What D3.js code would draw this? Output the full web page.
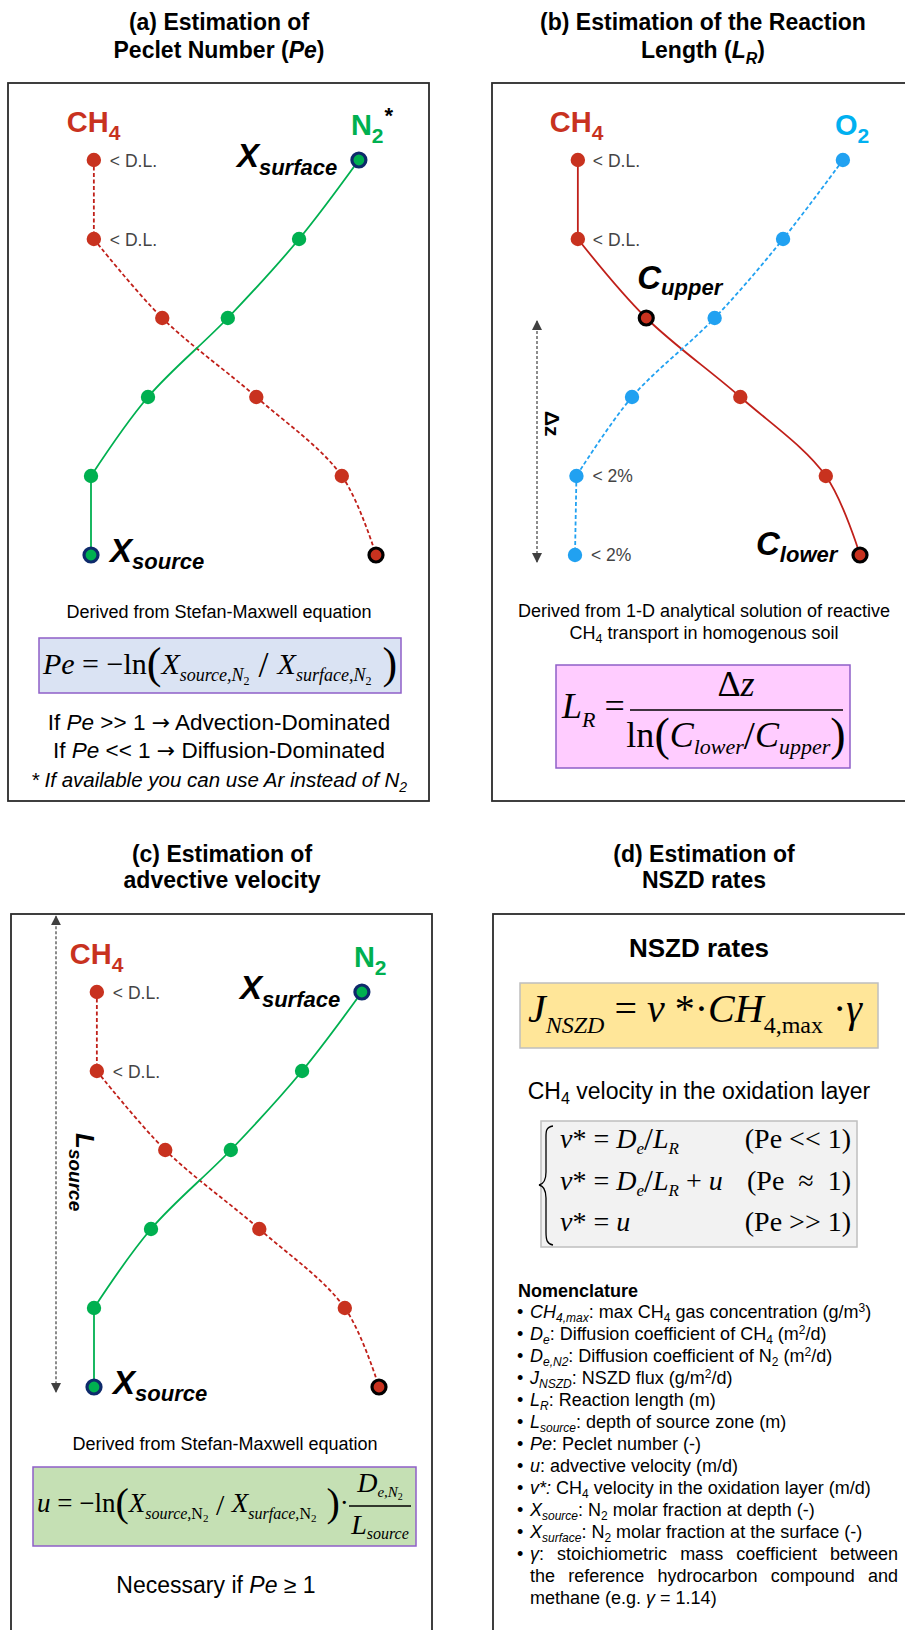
<!DOCTYPE html>
<html>
<head>
<meta charset="utf-8">
<script src="https://cdn.jsdelivr.net/npm/d3@7"></script>
<style>
  body { margin: 0; background: #fff; }
  svg { display: block; font-family: "Liberation Sans", Arial, sans-serif; }
</style>
</head>
<body>
<div id="chart"></div>
<script>
// depth levels (0 = surface, 5 = source) and gas profiles (% of max)
const depthLevels = [0, 1, 2, 3, 4, 5];
const ch4Values = [1, 1, 25, 58, 88, 100];
const n2Values = [94, 73, 48, 20, 0, 0];
const o2Values = [94, 73, 49, 20, 0.5, 0];
const ch4Notes = ["< D.L.", "< D.L.", "", "", "", ""];
const o2Notes = ["", "", "", "", "< 2%", "< 2%"];

const panelTitles = [
  ["(a) Estimation of", "Peclet Number (", "Pe", ")"],
  ["(b) Estimation of the Reaction", "Length (", "L", "R", ")"],
  ["(c) Estimation of", "advective velocity"],
  ["(d) Estimation of", "NSZD rates"]
];

const nomenclature = [
  [["CH", "i"], ["4,max", "is"], [": max CH"], ["4", "s"], [" gas concentration (g/m"], ["3", "p"], [")"]],
  [["D", "i"], ["e", "is"], [": Diffusion coefficient of CH"], ["4", "s"], [" (m"], ["2", "p"], ["/d)"]],
  [["D", "i"], ["e,N2", "is"], [": Diffusion coefficient of N"], ["2", "s"], [" (m"], ["2", "p"], ["/d)"]],
  [["J", "i"], ["NSZD", "is"], [": NSZD flux (g/m"], ["2", "p"], ["/d)"]],
  [["L", "i"], ["R", "is"], [": Reaction length (m)"]],
  [["L", "i"], ["source", "is"], [": depth of source zone (m)"]],
  [["Pe", "i"], [": Peclet number (-)"]],
  [["u", "i"], [": advective velocity (m/d)"]],
  [["v*:", "i"], [" CH"], ["4", "s"], [" velocity in the oxidation layer (m/d)"]],
  [["X", "i"], ["source", "is"], [": N"], ["2", "s"], [" molar fraction at depth (-)"]],
  [["X", "i"], ["surface", "is"], [": N"], ["2", "s"], [" molar fraction at the surface (-)"]],
  [["γ", "i"], [": stoichiometric mass coefficient between"]],
  [["the reference hydrocarbon compound and"]],
  [["methane (e.g. "], ["γ", "i"], [" = 1.14)"]]
];

const RED = "#c8321f", RED_LINE = "#c0201a", GREEN = "#00b050", BLUE = "#21a1f1",
      SKY = "#00b0f0", NAVY = "#0e2a6b", SERIF = "Liberation Serif, Times New Roman, serif";

const W = 905, H = 1630;
const svg = d3.select("#chart").append("svg").attr("width", W).attr("height", H);
svg.append("rect").attr("width", W).attr("height", H).attr("fill", "#fff");

const defs = svg.append("defs");
defs.append("marker").attr("id", "arr").attr("viewBox", "0 0 10 10")
  .attr("refX", 9).attr("refY", 5).attr("markerWidth", 10).attr("markerHeight", 10)
  .attr("markerUnits", "userSpaceOnUse").attr("orient", "auto-start-reverse")
  .append("path").attr("d", "M0,0L10,5L0,10Z").attr("fill", "#404040");

// rich text: segs = {t, s, i, b, sh, dx, f, c}
function rich(parent, x, y, segs, anchor) {
  const t = parent.append("text").attr("x", x).attr("y", y)
    .attr("text-anchor", anchor || "start");
  let cur = 0;
  segs.forEach(s => {
    const sh = s.sh || 0;
    const sp = t.append("tspan").text(s.t).attr("font-size", s.s).attr("dy", sh - cur);
    if (s.dx) sp.attr("dx", s.dx);
    if (s.i) sp.attr("font-style", "italic");
    if (s.b) sp.attr("font-weight", "bold");
    if (s.f) sp.attr("font-family", s.f);
    if (s.c) sp.attr("fill", s.c);
    cur = sh;
  });
  return t;
}

// ---------- titles ----------
const TS = 23;
const tg = svg.append("g").attr("fill", "#000").attr("font-weight", "bold");
rich(tg, 219, 30, [{t: panelTitles[0][0], s: TS}], "middle");
rich(tg, 219, 58, [{t: panelTitles[0][1], s: TS}, {t: panelTitles[0][2], s: TS, i: 1}, {t: panelTitles[0][3], s: TS}], "middle");
rich(tg, 703, 30, [{t: panelTitles[1][0], s: TS}], "middle");
rich(tg, 703, 58, [{t: panelTitles[1][1], s: TS}, {t: panelTitles[1][2], s: TS, i: 1}, {t: panelTitles[1][3], s: 16, i: 1, sh: 6}, {t: panelTitles[1][4], s: TS}], "middle");
rich(tg, 222, 862, [{t: panelTitles[2][0], s: TS}], "middle");
rich(tg, 222, 888, [{t: panelTitles[2][1], s: TS}], "middle");
rich(tg, 704, 862, [{t: panelTitles[3][0], s: TS}], "middle");
rich(tg, 704, 888, [{t: panelTitles[3][1], s: TS}], "middle");

// ---------- frames ----------
const frames = [[8, 83, 421, 718], [492, 83, 430, 718], [11, 914, 421, 730], [493, 914, 430, 730]];
svg.append("g").selectAll("rect").data(frames).join("rect")
  .attr("x", d => d[0]).attr("y", d => d[1]).attr("width", d => d[2]).attr("height", d => d[3])
  .attr("fill", "none").attr("stroke", "#2b2b2b").attr("stroke-width", 1.8);

// ---------- profile helpers ----------
// equal neighbouring values are joined with straight segments, the rest with a smooth curve
function profile(g, x, y, values, lineColor, dashed) {
  const pts = depthLevels.map((d, i) => ({d: d, v: values[i]}));
  const runs = [];
  let cur = [pts[0]], flat = null;
  for (let i = 0; i < pts.length - 1; i++) {
    const f = Math.abs(pts[i + 1].v - pts[i].v) < 1;
    if (flat === null) flat = f;
    if (f !== flat) { runs.push({pts: cur, flat: flat}); cur = [pts[i]]; flat = f; }
    cur.push(pts[i + 1]);
  }
  runs.push({pts: cur, flat: flat});
  runs.forEach(r => {
    g.append("path").datum(r.pts)
      .attr("fill", "none").attr("stroke", lineColor).attr("stroke-width", 1.8)
      .attr("stroke-dasharray", dashed ? "4,2.5" : null)
      .attr("d", d3.line().x(p => x(p.v)).y(p => y(p.d))
        .curve(r.flat ? d3.curveLinear : d3.curveCatmullRom.alpha(0.5)));
  });
  return pts;
}
function dots(g, x, y, pts, color, ringIdx, ringColor) {
  g.selectAll(null).data(pts).join("circle")
    .attr("cx", p => x(p.v)).attr("cy", p => y(p.d))
    .attr("r", (p, i) => ringIdx.includes(i) ? 7 : 7.2)
    .attr("fill", color)
    .attr("stroke", (p, i) => ringIdx.includes(i) ? ringColor : "none")
    .attr("stroke-width", 3.2);
}
function notes(g, x, y, pts, txt, dx, dy) {
  g.selectAll(null).data(pts.filter((p, i) => txt[i])).join("text")
    .attr("x", p => x(p.v) + dx).attr("y", p => y(p.d) + dy)
    .attr("font-size", 17.5).attr("fill", "#444")
    .text(p => txt[p.d]);
}
function gasLabel(g, x, y, name, sub, color, star) {
  const segs = [{t: name, s: 29, b: 1, c: color}, {t: sub, s: 21, b: 1, c: color, sh: 8}];
  if (star) segs.push({t: "*", s: 22, b: 1, c: "#000", sh: -12, dx: 1});
  rich(g, x, y, segs);
}
function bigSub(g, x, y, main, sub, shift) {
  rich(g, x, y, [{t: main, s: 33, b: 1, i: 1}, {t: sub, s: 22, b: 1, i: 1, sh: shift}]);
}

// ---------- panel (a) / (c): Pe and advective velocity ----------
function pePanel(x, y, star) {
  const g = svg.append("g");
  const ch4 = profile(g, x, y, ch4Values, RED_LINE, true);
  const n2 = profile(g, x, y, n2Values, GREEN, false);
  dots(g, x, y, ch4, RED, [5], "#000");
  dots(g, x, y, n2, GREEN, [0, 5], NAVY);
  notes(g, x, y, ch4, ch4Notes, 16, 7);
  gasLabel(g, x(ch4Values[0]) - 27, y(0) - 28, "CH", "4", RED, false);
  gasLabel(g, x(n2Values[0]) - 8, y(0) - 25, "N", "2", GREEN, star);
  bigSub(g, x(n2Values[0]) - 122, y(0) + 7, "X", "surface", 8);
  bigSub(g, x(n2Values[5]) + 19, y(5) + 7, "X", "source", 7);
  return g;
}
const yA = d3.scaleLinear().domain([0, 5]).range([160, 555]);
const xA = d3.scaleLinear().domain([0, 100]).range([91, 376]);
const yC = d3.scaleLinear().domain([0, 5]).range([992, 1387]);
const xC = d3.scaleLinear().domain([0, 100]).range([94, 379]);
pePanel(xA, yA, true);
const gc = pePanel(xC, yC, false);

// ---------- panel (b): reaction length ----------
const yB = d3.scaleLinear().domain([0, 5]).range([160, 555]);
const xB = d3.scaleLinear().domain([0, 100]).range([575, 860]);
const gb = svg.append("g");
const ch4b = profile(gb, xB, yB, ch4Values, RED_LINE, false);
const o2b = profile(gb, xB, yB, o2Values, BLUE, true);
dots(gb, xB, yB, ch4b, RED, [2, 5], "#000");
dots(gb, xB, yB, o2b, BLUE, [], "none");
notes(gb, xB, yB, ch4b, ch4Notes, 15, 7);
notes(gb, xB, yB, o2b, o2Notes, 16, 6);
gasLabel(gb, xB(ch4Values[0]) - 28, yB(0) - 28, "CH", "4", RED, false);
gasLabel(gb, xB(o2Values[0]) - 8, yB(0) - 25, "O", "2", SKY, false);
bigSub(gb, xB(ch4Values[2]) - 9, yB(2) - 29, "C", "upper", 6);
bigSub(gb, xB(ch4Values[5]) - 104, yB(5), "C", "lower", 7);

// depth arrows
gb.append("line").attr("x1", 537).attr("x2", 537).attr("y1", yB(2) + 3).attr("y2", yB(5) + 7)
  .attr("stroke", "#404040").attr("stroke-width", 1.2).attr("stroke-dasharray", "3,2")
  .attr("marker-start", "url(#arr)").attr("marker-end", "url(#arr)");
rich(gb.append("g").attr("transform", "translate(545,411) rotate(90)"), 0, 0,
  [{t: "Δ", s: 21, b: 1}, {t: "z", s: 21, b: 1}]);
gc.append("line").attr("x1", 56).attr("x2", 56).attr("y1", yC(-0.96)).attr("y2", yC(5) + 5)
  .attr("stroke", "#404040").attr("stroke-width", 1.2).attr("stroke-dasharray", "3,2")
  .attr("marker-start", "url(#arr)").attr("marker-end", "url(#arr)");
rich(gc.append("g").attr("transform", "translate(76,1133) rotate(90)"), 0, 0,
  [{t: "L", s: 26, b: 1, i: 1}, {t: "source", s: 19, b: 1, i: 1, sh: 7}]);

// ---------- text and formulas (a) ----------
const ARROW = "DejaVu Sans, sans-serif";
const ta = svg.append("g").attr("fill", "#000");
rich(ta, 219, 618, [{t: "Derived from Stefan-Maxwell equation", s: 18}], "middle");
ta.append("rect").attr("x", 39).attr("y", 638).attr("width", 362).attr("height", 55)
  .attr("fill", "#dae3f3").attr("stroke", "#8f5fc8").attr("stroke-width", 1.5);
rich(ta, 220, 674, [
  {t: "Pe", s: 30, i: 1, f: SERIF}, {t: " = −ln", s: 30, f: SERIF},
  {t: "(", s: 44, f: SERIF, sh: 4}, {t: "X", s: 30, i: 1, f: SERIF},
  {t: "source,N", s: 18, i: 1, f: SERIF, sh: 7}, {t: "2", s: 12, f: SERIF, sh: 11},
  {t: " / ", s: 36, f: SERIF, sh: 3}, {t: "X", s: 30, i: 1, f: SERIF},
  {t: "surface,N", s: 18, i: 1, f: SERIF, sh: 7}, {t: "2", s: 12, f: SERIF, sh: 11},
  {t: " )", s: 44, f: SERIF, sh: 4}], "middle");
rich(ta, 219, 730, [{t: "If ", s: 22.5}, {t: "Pe", s: 22.5, i: 1}, {t: " >> 1 ", s: 22.5}, {t: "→", s: 22, f: ARROW}, {t: " Advection-Dominated", s: 22.5}], "middle");
rich(ta, 219, 758, [{t: "If ", s: 22.5}, {t: "Pe", s: 22.5, i: 1}, {t: " << 1 ", s: 22.5}, {t: "→", s: 22, f: ARROW}, {t: " Diffusion-Dominated", s: 22.5}], "middle");
rich(ta, 219, 787, [{t: "* If available you can use Ar instead of N", s: 20.5, i: 1}, {t: "2", s: 14, i: 1, sh: 5}], "middle");

// ---------- text and formulas (b) ----------
rich(ta, 704, 617, [{t: "Derived from 1-D analytical solution of reactive", s: 18}], "middle");
rich(ta, 704, 639, [{t: "CH", s: 18}, {t: "4", s: 12.5, sh: 4}, {t: " transport in homogenous soil", s: 18, sh: 0}], "middle");
ta.append("rect").attr("x", 556).attr("y", 665).attr("width", 294).attr("height", 103)
  .attr("fill", "#ffccff").attr("stroke", "#8f5fc8").attr("stroke-width", 1.5);
rich(ta, 562, 718, [{t: "L", s: 36, i: 1, f: SERIF}, {t: "R", s: 22, i: 1, f: SERIF, sh: 9}, {t: " =", s: 36, f: SERIF}]);
ta.append("line").attr("x1", 630).attr("x2", 843).attr("y1", 710).attr("y2", 710)
  .attr("stroke", "#000").attr("stroke-width", 1.6);
rich(ta, 736, 696, [{t: "Δ", s: 36, f: SERIF}, {t: "z", s: 36, i: 1, f: SERIF}], "middle");
rich(ta, 736, 747, [
  {t: "ln", s: 36, f: SERIF}, {t: "(", s: 46, f: SERIF, sh: 3}, {t: "C", s: 36, i: 1, f: SERIF},
  {t: "lower", s: 22, i: 1, f: SERIF, sh: 7}, {t: "/", s: 40, f: SERIF, sh: 2},
  {t: "C", s: 36, i: 1, f: SERIF}, {t: "upper", s: 22, i: 1, f: SERIF, sh: 7},
  {t: ")", s: 46, f: SERIF, sh: 3}], "middle");

// ---------- text and formulas (c) ----------
rich(ta, 225, 1450, [{t: "Derived from Stefan-Maxwell equation", s: 18}], "middle");
ta.append("rect").attr("x", 33).attr("y", 1467).attr("width", 383).attr("height", 79)
  .attr("fill", "#c5e0b4").attr("stroke", "#8f5fc8").attr("stroke-width", 1.5);
rich(ta, 37, 1512, [
  {t: "u", s: 27, i: 1, f: SERIF}, {t: " = −ln", s: 27, f: SERIF}, {t: "(", s: 40, f: SERIF, sh: 4},
  {t: "X", s: 27, i: 1, f: SERIF}, {t: "source,", s: 16, i: 1, f: SERIF, sh: 7},
  {t: "N", s: 16, f: SERIF, sh: 7}, {t: "2", s: 11, f: SERIF, sh: 10},
  {t: " / ", s: 30, f: SERIF, sh: 3}, {t: "X", s: 27, i: 1, f: SERIF},
  {t: "surface,", s: 16, i: 1, f: SERIF, sh: 7}, {t: "N", s: 16, f: SERIF, sh: 7},
  {t: "2", s: 11, f: SERIF, sh: 10}, {t: " )", s: 40, f: SERIF, sh: 4}, {t: "·", s: 27, f: SERIF}]);
ta.append("line").attr("x1", 349).attr("x2", 411).attr("y1", 1506).attr("y2", 1506)
  .attr("stroke", "#000").attr("stroke-width", 1.4);
rich(ta, 380, 1492, [{t: "D", s: 28, i: 1, f: SERIF}, {t: "e,N", s: 15, i: 1, f: SERIF, sh: 5}, {t: "2", s: 10, f: SERIF, sh: 8}], "middle");
rich(ta, 380, 1534, [{t: "L", s: 28, i: 1, f: SERIF}, {t: "source", s: 16, i: 1, f: SERIF, sh: 5}], "middle");
rich(ta, 216, 1593, [{t: "Necessary if ", s: 23}, {t: "Pe", s: 23, i: 1}, {t: " ≥ 1", s: 23}], "middle");

// ---------- panel (d) ----------
rich(ta, 699, 957, [{t: "NSZD rates", s: 26, b: 1}], "middle");
ta.append("rect").attr("x", 520).attr("y", 983).attr("width", 358).attr("height", 65)
  .attr("fill", "#ffe699").attr("stroke", "#bfbfbf").attr("stroke-width", 1.5);
rich(ta, 528, 1022, [
  {t: "J", s: 40, i: 1, f: SERIF}, {t: "NSZD", s: 24, i: 1, f: SERIF, sh: 11},
  {t: " = ", s: 40, f: SERIF}, {t: "v", s: 40, i: 1, f: SERIF}, {t: " *·", s: 40, f: SERIF},
  {t: "CH", s: 40, i: 1, f: SERIF}, {t: "4,max", s: 24, f: SERIF, sh: 11},
  {t: " ·", s: 40, f: SERIF}, {t: "γ", s: 40, i: 1, f: SERIF}]);
rich(ta, 699, 1099, [{t: "CH", s: 23}, {t: "4", s: 16, sh: 5}, {t: " velocity in the oxidation layer", s: 23}], "middle");
ta.append("rect").attr("x", 541).attr("y", 1121).attr("width", 316).attr("height", 126)
  .attr("fill", "#f2f2f2").attr("stroke", "#bfbfbf").attr("stroke-width", 1.5);
ta.append("path")
  .attr("d", "M553,1126 C545,1127 546,1133 546,1140 L546,1172 C546,1180 544,1184 539,1185 C544,1186 546,1190 546,1198 L546,1232 C546,1240 547,1244 553,1245")
  .attr("fill", "none").attr("stroke", "#000").attr("stroke-width", 1.3);
const cases = [
  [[{t: "v", i: 1}, {t: "* = "}, {t: "D", i: 1}, {t: "e", i: 1, s: 17, sh: 6}, {t: "/", s: 32, sh: 2}, {t: "L", i: 1, sh: 0}, {t: "R", i: 1, s: 17, sh: 6}], "(Pe << 1)", 1148],
  [[{t: "v", i: 1}, {t: "* = "}, {t: "D", i: 1}, {t: "e", i: 1, s: 17, sh: 6}, {t: "/", s: 32, sh: 2}, {t: "L", i: 1, sh: 0}, {t: "R", i: 1, s: 17, sh: 6}, {t: " + ", sh: 0}, {t: "u", i: 1}], "(Pe  ≈  1)", 1190],
  [[{t: "v", i: 1}, {t: "* = "}, {t: "u", i: 1}], "(Pe >> 1)", 1231]
];
cases.forEach(c => {
  rich(ta, 560, c[2], c[0].map(s => Object.assign({s: 28, f: SERIF}, s)));
  rich(ta, 851, c[2], [{t: c[1], s: 28, f: SERIF}], "end").attr("xml:space", "preserve");
});

// nomenclature
const NS = 18;
rich(ta, 518, 1297, [{t: "Nomenclature", s: NS, b: 1}]);
nomenclature.forEach((item, k) => {
  const y = 1318 + k * 22;
  if (k !== 12 && k !== 13) rich(ta, 517, y, [{t: "•", s: NS}]);
  const t = rich(ta, 530, y, item.map(p => {
    const st = p[1] || "";
    const seg = {t: p[0], s: NS};
    if (st.includes("i")) seg.i = 1;
    if (st.includes("s")) { seg.s = 12; seg.sh = 4; }
    if (st.includes("p")) { seg.s = 12; seg.sh = -6; }
    return seg;
  }));
  if (k === 11 || k === 12) {
    const len = t.node().getComputedTextLength();
    const gaps = item.map(p => p[0]).join("").split(" ").length - 1;
    t.attr("word-spacing", (898 - 530 - len) / gaps);
  }
});
</script>
</body>
</html>
